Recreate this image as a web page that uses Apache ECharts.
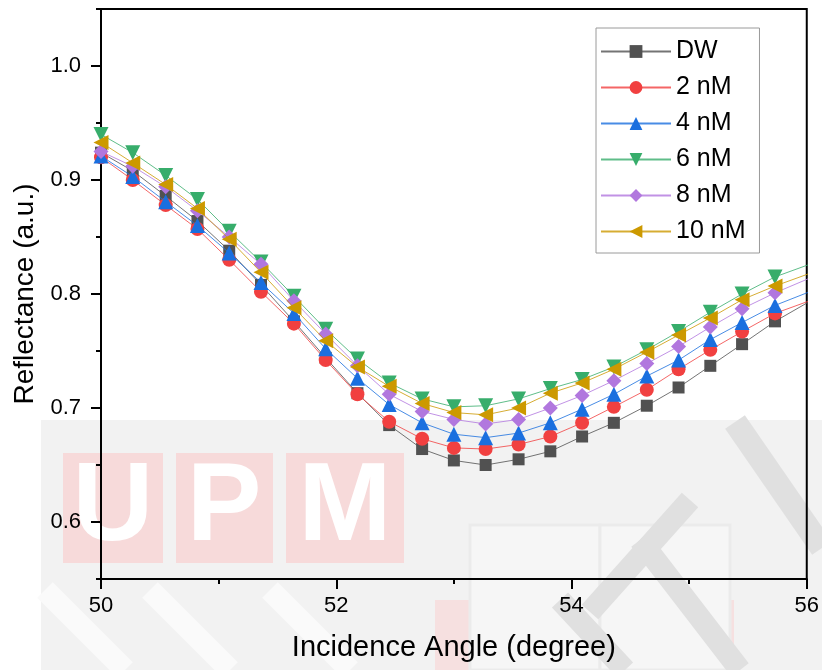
<!DOCTYPE html>
<html>
<head>
<meta charset="utf-8">
<script src="https://cdn.jsdelivr.net/npm/echarts@6/dist/echarts.min.js"></script>
<style>
  html, body { margin: 0; padding: 0; background: #ffffff; }
  #chart { width: 822px; height: 670px; }
</style>
</head>
<body>
<div id="chart"></div>
<script>
// Incidence angle (degree) of each reflectance sample
const angles = [50.00, 50.27, 50.55, 50.82, 51.09, 51.36, 51.64, 51.91, 52.18, 52.45, 52.73, 53.00,
                53.27, 53.55, 53.82, 54.09, 54.36, 54.64, 54.91, 55.18, 55.45, 55.73, 56.05];

// Reflectance (a.u.) for each sample
const dw   = [0.924, 0.908, 0.886, 0.864, 0.838, 0.808, 0.776, 0.744, 0.713, 0.685, 0.664, 0.654,
              0.650, 0.655, 0.662, 0.675, 0.687, 0.702, 0.718, 0.737, 0.756, 0.776, 0.795];
const nM2  = [0.920, 0.900, 0.878, 0.857, 0.830, 0.802, 0.774, 0.742, 0.712, 0.688, 0.673, 0.665,
              0.664, 0.668, 0.675, 0.687, 0.701, 0.716, 0.734, 0.751, 0.767, 0.783, 0.795];
const nM4  = [0.921, 0.903, 0.881, 0.860, 0.836, 0.810, 0.783, 0.752, 0.726, 0.703, 0.687, 0.677,
              0.674, 0.678, 0.687, 0.699, 0.712, 0.728, 0.742, 0.760, 0.775, 0.790, 0.803];
const nM6  = [0.940, 0.924, 0.904, 0.883, 0.855, 0.828, 0.798, 0.769, 0.743, 0.722, 0.708, 0.701,
              0.702, 0.708, 0.717, 0.725, 0.736, 0.751, 0.767, 0.784, 0.800, 0.815, 0.827];
const nM8  = [0.925, 0.912, 0.894, 0.873, 0.850, 0.826, 0.794, 0.765, 0.737, 0.712, 0.697, 0.690,
              0.686, 0.690, 0.700, 0.711, 0.724, 0.739, 0.754, 0.771, 0.787, 0.801, 0.815];
const nM10 = [0.933, 0.915, 0.896, 0.875, 0.848, 0.819, 0.788, 0.759, 0.736, 0.719, 0.704, 0.696,
              0.694, 0.700, 0.713, 0.722, 0.734, 0.749, 0.764, 0.779, 0.795, 0.807, 0.819];

const seriesNames = ['DW', '2 nM', '4 nM', '6 nM', '8 nM', '10 nM'];
const seriesValues = [dw, nM2, nM4, nM6, nM8, nM10];

// Tick labels
const xTicks = [50, 52, 54, 56];
const yMajorTicks = [0.6, 0.7, 0.8, 0.9, 1.0];
const yMinorTicks = [0.55, 0.65, 0.75, 0.85, 0.95, 1.05];

const palette = ['#515151', '#F14040', '#1A6FDF', '#37AD6B', '#B177DE', '#CC9900'];
const markers = [
  { symbol: 'rect', size: 12, rotate: 0 },
  { symbol: 'circle', size: 14, rotate: 0 },
  { symbol: 'triangle', size: 15, rotate: 0 },
  { symbol: 'triangle', size: 15, rotate: 180 },
  { symbol: 'diamond', size: 15, rotate: 0 },
  { symbol: 'triangle', size: 15, rotate: 90 }
];

const FONT = 'Liberation Sans, Arial, sans-serif';

const series = seriesNames.map((name, k) => ({
  name: name,
  type: 'line',
  clip: true,
  data: angles.map((a, i) => [a, seriesValues[k][i]]),
  symbol: markers[k].symbol,
  symbolSize: markers[k].size,
  symbolRotate: markers[k].rotate,
  showAllSymbol: true,
  itemStyle: { color: palette[k] },
  lineStyle: { color: palette[k], width: 1, opacity: 0.8 },
  emphasis: { disabled: true },
  z: 3 + k
}));

// Faint institutional watermark behind the plot
const band = (x1, y1, x2, y2, w, c) => ({
  type: 'line', silent: true, z: -5,
  shape: { x1, y1, x2, y2 },
  style: { stroke: c || '#e0e0e0', lineWidth: w || 20, lineCap: 'butt' }
});
const watermark = [
  { type: 'rect', silent: true, z: -9, shape: { x: 41, y: 420, width: 781, height: 250 }, style: { fill: '#f2f2f2' } },
  band(45, 590, 125, 670, 22, '#fafafa'),
  band(150, 590, 230, 670, 22, '#fafafa'),
  band(270, 590, 350, 670, 22, '#fafafa'),
  { type: 'rect', silent: true, z: -7, shape: { x: 63, y: 453, width: 100, height: 110 }, style: { fill: '#f7dada' } },
  { type: 'rect', silent: true, z: -7, shape: { x: 176, y: 453, width: 97, height: 110 }, style: { fill: '#f7dada' } },
  { type: 'rect', silent: true, z: -7, shape: { x: 286, y: 453, width: 118, height: 110 }, style: { fill: '#f7dada' } },
  { type: 'text', silent: true, z: -6, style: { x: 113, y: 509, text: 'U', fill: '#ffffff', font: 'bold 112px ' + FONT, align: 'center', verticalAlign: 'middle' } },
  { type: 'text', silent: true, z: -6, style: { x: 224, y: 509, text: 'P', fill: '#ffffff', font: 'bold 112px ' + FONT, align: 'center', verticalAlign: 'middle' } },
  { type: 'text', silent: true, z: -6, style: { x: 345, y: 509, text: 'M', fill: '#ffffff', font: 'bold 112px ' + FONT, align: 'center', verticalAlign: 'middle' } },
  { type: 'rect', silent: true, z: -7, shape: { x: 435, y: 600, width: 90, height: 70 }, style: { fill: '#f6e0e0' } },
  { type: 'rect', silent: true, z: -7, shape: { x: 682, y: 600, width: 52, height: 70 }, style: { fill: '#f6e0e0' } },
  { type: 'rect', silent: true, z: -6, shape: { x: 470, y: 525, width: 130, height: 145 }, style: { fill: '#f6f6f6', stroke: '#ebebeb', lineWidth: 3 } },
  { type: 'rect', silent: true, z: -6, shape: { x: 600, y: 525, width: 130, height: 145 }, style: { fill: '#f6f6f6', stroke: '#ebebeb', lineWidth: 3 } },
  band(690, 500, 590, 612, 22),
  band(640, 540, 740, 670, 22),
  band(560, 600, 625, 670, 22),
  band(735, 422, 822, 548, 24)
];

const chart = echarts.init(document.getElementById('chart'), null, { renderer: 'canvas' });
chart.setOption({
  animation: false,
  backgroundColor: '#ffffff',
  textStyle: { fontFamily: FONT },
  graphic: watermark,
  grid: {
    left: 101, right: 15, top: 9, bottom: 91,
    show: true, borderColor: '#000000', borderWidth: 2, backgroundColor: 'transparent'
  },
  legend: {
    data: seriesNames,
    orient: 'vertical',
    left: 596, top: 28,
    padding: [11, 14, 9, 4],
    itemWidth: 70, itemHeight: 16, itemGap: 11,
    borderColor: '#9a9a9a', borderWidth: 1,
    backgroundColor: '#ffffff',
    selectedMode: false,
    textStyle: { fontSize: 25, lineHeight: 24, color: '#000000', fontFamily: FONT }
  },
  xAxis: {
    type: 'value',
    min: 50, max: 56, interval: 2,
    name: 'Incidence Angle (degree)',
    nameLocation: 'middle', nameGap: 54,
    nameTextStyle: { fontSize: 29, color: '#000000', fontFamily: FONT },
    axisLine: { lineStyle: { color: '#000000', width: 2 } },
    axisTick: { length: 10, lineStyle: { color: '#000000', width: 2 } },
    minorTick: { show: true, splitNumber: 2, length: 5, lineStyle: { color: '#000000', width: 2 } },
    axisLabel: { fontSize: 22, color: '#000000', margin: 16, formatter: v => String(v),
                 customValues: xTicks },
    splitLine: { show: false }
  },
  yAxis: [
    {
      type: 'value',
      min: 0.55, max: 1.05,
      name: 'Reflectance (a.u.)',
      nameLocation: 'middle', nameGap: 60,
      nameTextStyle: { fontSize: 28, color: '#000000', fontFamily: FONT },
      axisLine: { lineStyle: { color: '#000000', width: 2 } },
      axisTick: { length: 10, lineStyle: { color: '#000000', width: 2 }, customValues: yMajorTicks },
      axisLabel: { fontSize: 22, color: '#000000', margin: 20, customValues: yMajorTicks,
                   formatter: v => Number(v).toFixed(1) },
      splitLine: { show: false }
    },
    {
      type: 'value',
      min: 0.55, max: 1.05,
      position: 'left',
      axisLine: { show: false },
      axisTick: { length: 5, lineStyle: { color: '#000000', width: 2 }, customValues: yMinorTicks },
      axisLabel: { show: false },
      splitLine: { show: false }
    }
  ],
  series: series
});
</script>
</body>
</html>
